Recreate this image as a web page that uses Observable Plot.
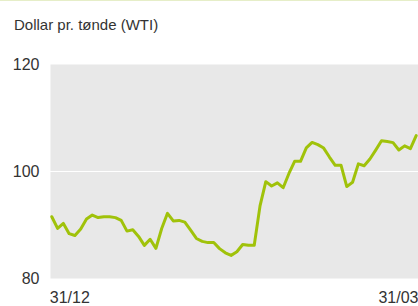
<!DOCTYPE html>
<html><head><meta charset="utf-8">
<script src="https://cdn.jsdelivr.net/npm/d3@7"></script>
<script src="https://cdn.jsdelivr.net/npm/@observablehq/plot@0.6"></script>
<style>
body{margin:0;background:#fff;font-family:"Liberation Sans",Arial,sans-serif;}
#wrap{width:418px;height:306px;border-top:1px solid #e6eec8;box-sizing:border-box;overflow:hidden;position:relative}
#title{position:absolute;left:14px;top:16px;font-size:15px;line-height:15px;color:#333;white-space:nowrap}
#chart{position:absolute;left:0;top:39px}
#chart svg{overflow:visible}
</style></head><body>
<div id="wrap"><div id="title">Dollar pr. tønde (WTI)</div><div id="chart"></div></div>
<script>
// Weekdays (holidays carry previous value)
const dates = ["03/01","04/01","05/01","06/01","07/01","10/01","11/01","12/01","13/01","14/01",
  "17/01","18/01","19/01","20/01","21/01","24/01","25/01","26/01","27/01","28/01","31/01",
  "01/02","02/02","03/02","04/02","07/02","08/02","09/02","10/02","11/02","14/02","15/02","16/02","17/02","18/02",
  "21/02","22/02","23/02","24/02","25/02","28/02",
  "01/03","02/03","03/03","04/03","07/03","08/03","09/03","10/03","11/03","14/03","15/03","16/03","17/03","18/03",
  "21/03","22/03","23/03","24/03","25/03","28/03","29/03","30/03","31/03"];
const prices = [91.55,89.38,90.30,88.38,88.03,89.25,91.11,91.86,91.40,91.54,
  91.54,91.38,90.86,88.86,89.11,87.87,86.19,87.33,85.64,89.34,92.19,
  90.77,90.86,90.54,89.03,87.48,86.94,86.71,86.73,85.58,84.81,84.32,84.99,86.36,86.20,
  86.20,93.57,98.10,97.28,97.88,96.97,
  99.63,101.92,101.91,104.42,105.44,105.02,104.38,102.70,101.16,101.19,97.18,97.98,101.42,101.07,
  102.33,104.00,105.75,105.60,105.40,104.02,104.79,104.27,106.72];
const yTicks = [80, 100, 120];
const yGrid = [100];
const xTickLabels = ["31/12", "31/03"];

const data = prices.map((v, i) => ({i, date: dates[i], v}));
const last = prices.length - 1;

const chart = Plot.plot({
  width: 418, height: 266,
  marginLeft: 50, marginRight: 0, marginTop: 24, marginBottom: 28,
  style: {fontFamily: "'Liberation Sans', Arial, sans-serif", fontSize: "16px", color: "#333", background: "transparent", overflow: "visible"},
  x: {domain: [0, last], insetLeft: 1.3, insetRight: 2.3},
  y: {domain: [80, 120]},
  marks: [
    Plot.frame({fill: "#e8e8e8", stroke: null}),
    Plot.gridY(yGrid, {stroke: "#fff", strokeOpacity: 1, strokeWidth: 1.2}),
    Plot.axisY(yTicks, {tickSize: 0, tickPadding: 11, fontSize: 16, fill: "#333", label: null}),
    Plot.axisX([0], {tickSize: 0, tickPadding: 13, fontSize: 16, fill: "#333", label: null, tickFormat: () => xTickLabels[0], textAnchor: "start", dx: -2}),
    Plot.axisX([last], {tickSize: 0, tickPadding: 13, fontSize: 16, fill: "#333", label: null, tickFormat: () => xTickLabels[1], textAnchor: "end", dx: 2.3}),
    Plot.line(data, {x: "i", y: "v", stroke: "#a0c20a", strokeWidth: 3, strokeLinejoin: "round"})
  ]
});
document.getElementById("chart").append(chart);
</script>
</body></html>
